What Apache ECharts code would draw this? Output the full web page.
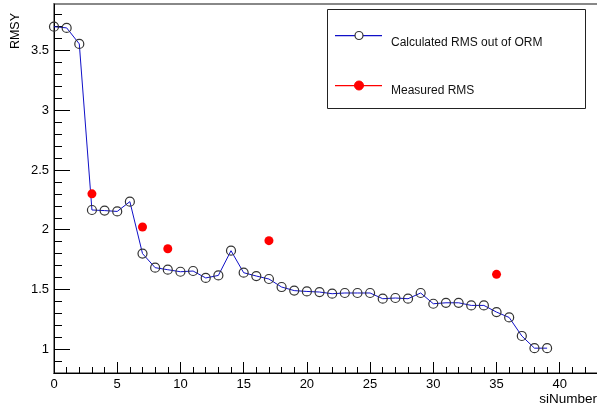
<!DOCTYPE html>
<html>
<head>
<meta charset="utf-8">
<script src="https://cdn.jsdelivr.net/npm/echarts@6/dist/echarts.min.js"></script>
<style>
html,body{margin:0;padding:0;overflow:hidden;background:#fff;width:597px;height:409px;}
#c{width:615px;height:409px;}
</style>
</head>
<body>
<div id="c"></div>
<script>
// Data
const siNumber = [0,1,2,3,4,5,6,7,8,9,10,11,12,13,14,15,16,17,18,19,20,21,22,23,24,25,26,27,28,29,30,31,32,33,34,35,36,37,38,39];
const calculatedRMS = [3.70,3.69,3.556,2.165,2.16,2.153,2.235,1.80,1.682,1.665,1.648,1.654,1.596,1.617,1.824,1.64,1.612,1.587,1.52,1.49,1.483,1.478,1.464,1.47,1.47,1.47,1.422,1.428,1.422,1.47,1.38,1.388,1.388,1.366,1.366,1.31,1.265,1.11,1.008,1.008];
const measuredX = [3,7,9,17,35];
const measuredRMS = [2.30,2.023,1.84,1.908,1.626];
const xMajorTicks = [0,5,10,15,20,25,30,35,40];
const xMinorTicks = [0,1,2,3,4,5,6,7,8,9,10,11,12,13,14,15,16,17,18,19,20,21,22,23,24,25,26,27,28,29,30,31,32,33,34,35,36,37,38,39,40,41,42,43];
const yMajorTicks = [1,1.5,2,2.5,3,3.5];
const yMinorTicks = [0.9,1.0,1.1,1.2,1.3,1.4,1.5,1.6,1.7,1.8,1.9,2.0,2.1,2.2,2.3,2.4,2.5,2.6,2.7,2.8,2.9,3.0,3.1,3.2,3.3,3.4,3.5,3.6,3.7,3.8];
const legendNames = ['Calculated RMS out of ORM','Measured RMS'];
const xTitle = 'siNumber';
const yTitle = 'RMSY';

const X_MIN = 0, X_MAX = 43.5, Y_MIN = 0.8, Y_MAX = 3.89;
const FONT = '"Liberation Sans", Arial, Helvetica, sans-serif';

const chart = echarts.init(document.getElementById('c'), null, {renderer:'canvas'});

const axisBaseX = {type:'value', min:X_MIN, max:X_MAX, position:'bottom', splitLine:{show:false}};
const axisBaseY = {type:'value', min:Y_MIN, max:Y_MAX, position:'left', splitLine:{show:false}};

chart.setOption({
  animation:false,
  backgroundColor:'#fff',
  grid:{left:54, top:4, right:11, bottom:36, show:true, borderColor:'#888', borderWidth:2, backgroundColor:'transparent'},
  xAxis:[
    Object.assign({}, axisBaseX, {
      axisLine:{show:true, onZero:false, lineStyle:{color:'#000', width:1}},
      axisTick:{show:true, inside:true, length:11, customValues:xMajorTicks, lineStyle:{color:'#000'}},
      axisLabel:{show:true, customValues:xMajorTicks, margin:5, color:'#000', fontSize:13, fontFamily:FONT}
    }),
    Object.assign({}, axisBaseX, {
      axisLine:{show:false},
      axisTick:{show:true, inside:true, length:6, customValues:xMinorTicks, lineStyle:{color:'#000'}},
      axisLabel:{show:false}
    })
  ],
  yAxis:[
    Object.assign({}, axisBaseY, {
      axisLine:{show:true, onZero:false, lineStyle:{color:'#000', width:1}},
      axisTick:{show:true, inside:true, length:16, customValues:yMajorTicks, lineStyle:{color:'#000'}},
      axisLabel:{show:true, customValues:yMajorTicks, margin:5, color:'#000', fontSize:13, fontFamily:FONT}
    }),
    Object.assign({}, axisBaseY, {
      axisLine:{show:false},
      axisTick:{show:true, inside:true, length:8, customValues:yMinorTicks, lineStyle:{color:'#000'}},
      axisLabel:{show:false}
    })
  ],
  series:[
    {
      name:legendNames[0], type:'line', xAxisIndex:0, yAxisIndex:0,
      data: siNumber.map((x,i)=>[x, calculatedRMS[i]]),
      lineStyle:{color:'#1010c8', width:1},
      symbol:'circle', symbolSize:9,
      itemStyle:{color:'rgba(0,0,0,0)', borderColor:'#333', borderWidth:1.2},
      z:3
    },
    {
      name:legendNames[1], type:'scatter', xAxisIndex:0, yAxisIndex:0,
      data: measuredX.map((x,i)=>[x, measuredRMS[i]]),
      symbol:'circle', symbolSize:9,
      itemStyle:{color:'#ff0000', opacity:1},
      z:4
    }
  ],
  graphic:[
    {type:'rect', shape:{x:327.5, y:9.5, width:258, height:99}, style:{fill:'#fff', stroke:'#222', lineWidth:1}, z:10},
    {type:'rect', shape:{x:335, y:35, width:47, height:1.2}, style:{fill:'#1010c8'}, z:11},
    {type:'circle', shape:{cx:359, cy:35.5, r:4}, style:{fill:'#fff', stroke:'#333', lineWidth:1.2}, z:12},
    {type:'text', x:391, y:43, style:{text:legendNames[0], fill:'#111', font:'12px '+FONT, textAlign:'left', textVerticalAlign:'middle'}, z:11},
    {type:'rect', shape:{x:335, y:85, width:47, height:1.2}, style:{fill:'#ff0000'}, z:11},
    {type:'circle', shape:{cx:359, cy:85.5, r:4.5}, style:{fill:'#ff0000', stroke:'#ff0000', lineWidth:1}, z:12},
    {type:'text', x:391, y:91, style:{text:legendNames[1], fill:'#111', font:'12px '+FONT, textAlign:'left', textVerticalAlign:'middle'}, z:11},
    {type:'text', x:597, y:399, style:{text:xTitle, fill:'#000', font:'13.5px '+FONT, textAlign:'right', textVerticalAlign:'middle'}, z:11},
    {type:'text', x:16, y:13, rotation:Math.PI/2, style:{text:yTitle, fill:'#000', font:'12.5px '+FONT, textAlign:'right', textVerticalAlign:'middle'}, z:11}
  ]
});
</script>
</body>
</html>
